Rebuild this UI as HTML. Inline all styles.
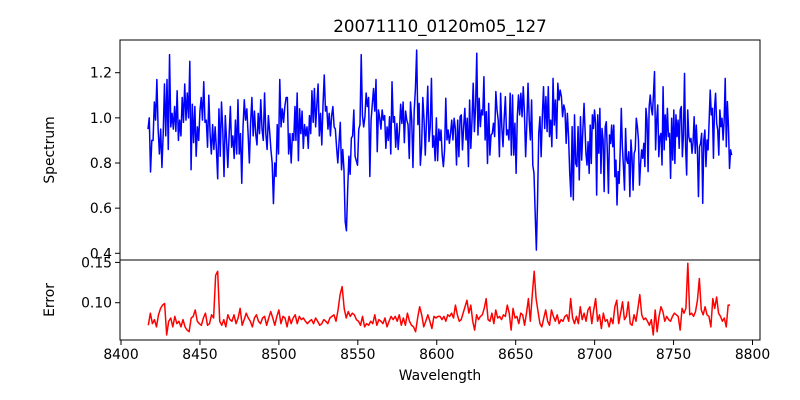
<!DOCTYPE html>
<html><head><meta charset="utf-8"><style>
html,body{margin:0;padding:0;background:#fff;}
svg{display:block;font-family:"DejaVu Sans","Liberation Sans",sans-serif;}
</style></head><body>
<svg id="chart" width="800" height="400" viewBox="0 0 800 400">
<rect x="0" y="0" width="800" height="400" fill="#fff"/>
<text x="440" y="32" font-size="16.7" text-anchor="middle">20071110_0120m05_127</text>
<text transform="translate(54,150) rotate(-90)" font-size="13.9" text-anchor="middle">Spectrum</text>
<text transform="translate(54,300) rotate(-90)" font-size="13.9" text-anchor="middle">Error</text>
<text x="440" y="380" font-size="13.9" text-anchor="middle">Wavelength</text>
<g id="g"></g>
</svg>
<script>
const xTicks=[8400,8450,8500,8550,8600,8650,8700,8750,8800];
const specTicks=[0.4,0.6,0.8,1.0,1.2];
const errTicks=[0.10,0.15];
const specSegLo=[8417.1,8510.8,8602.7,8694.5];
const specSegHi=[8510.2,8602.1,8693.3,8786.8];
const flux1=[0.95,1.0,0.76,0.9,0.9,1.07,0.99,1.17,0.95,0.84,0.95,0.78,0.93,1.15,0.92,1.17,0.86,1.28,0.96,1.02,0.95,1.05,0.94,1.12,0.9,0.99,0.92,1.09,0.98,1.15,0.99,1.11,1.0,1.25,0.77,1.06,0.89,1.05,0.83,0.96,0.9,1.03,1.09,0.99,1.16,0.98,0.99,0.87,1.1,0.93,0.84,0.97,0.86,0.96,0.86,0.73,1.04,0.83,1.07,0.95,0.74,1.01,0.9,0.78,0.92,1.05,0.87,0.92,0.82,0.99,0.84,1.08,0.84,0.93,0.71,0.96,1.08,0.99,1.04,0.93,0.8,0.98,1.09,0.92,1.03,0.93,0.88,1.02,0.93,1.08,0.95,0.9,1.11,0.93,0.86,1.01,0.94,0.86,0.8,0.62,0.8,0.74,0.97,0.84,1.17,0.96,1.04,0.98,1.05,1.09,1.09,0.84,0.93,0.8,0.93,0.9,1.05];
const flux2=[0.9,1.11,0.81,1.04,0.93,1.03,0.865,0.97,0.92,0.96,0.865,1.01,0.93,1.12,0.98,1.13,0.96,1.06,1.15,0.92,1.02,0.88,1.06,1.19,1.03,1.05,0.95,1.02,0.92,1.01,1.05,0.96,0.95,0.87,0.8,0.89,0.98,0.77,0.86,0.77,0.54,0.5,0.68,0.83,0.75,0.91,0.92,1.035,0.83,0.81,0.79,0.95,0.97,1.28,1.01,0.96,1.005,1.11,1.05,1.09,0.74,0.99,1.06,1.13,1.03,1.17,0.85,1.035,1.0,0.95,1.035,0.99,1.01,0.865,0.96,0.9,1.005,0.84,1.16,0.98,1.005,0.87,0.975,0.86,0.94,1.06,0.975,1.07,0.89,1.03,0.99,0.97,0.82,1.07,0.99,0.78,1.03,1.13,1.3,0.97,1.064,0.79,0.87,1.09,0.99,0.835,0.99,1.14,0.895,0.96,1.175,0.87,0.92,0.81,1.0,0.81,0.95,0.9];
const flux3=[0.946,0.835,0.784,0.858,1.087,0.902,0.946,0.887,0.931,0.99,0.902,0.998,0.953,0.791,0.99,0.828,1.005,1.013,0.858,0.961,1.042,0.902,0.998,0.784,1.079,0.865,0.99,1.153,0.939,1.05,1.286,0.924,1.087,0.961,1.035,1.013,1.182,0.902,1.027,0.798,1.064,0.835,0.924,0.931,0.976,0.917,1.116,1.035,0.99,0.828,1.109,0.961,0.872,0.998,1.094,0.924,0.946,0.902,1.109,0.835,1.101,0.835,0.976,0.754,1.005,1.101,1.013,1.109,1.005,1.138,1.02,0.828,0.976,1.153,0.99,0.902,1.079,0.791,0.754,0.577,0.414,0.636,0.931,1.005,0.828,1.005,1.138,0.953,1.094,0.939,1.138,0.917,0.99,0.872,1.175,0.968,1.079,0.909,1.153,1.079,1.123,1.094,1.005,1.057,1.035,0.887,1.02,0.917,0.754,0.651,0.961,0.636,1.013,0.798,0.784,0.961,0.725,1.005,0.813,0.946,1.064];
const flux4=[0.843,0.791,0.894,0.754,0.968,0.798,1.013,0.953,1.035,0.976,0.658,1.013,0.843,1.042,0.754,0.953,0.902,0.673,0.961,0.983,0.843,0.666,0.924,0.887,0.968,0.872,0.968,0.739,0.813,0.614,0.762,0.710,0.858,1.042,0.872,0.784,0.680,0.953,0.813,0.798,0.850,0.651,0.902,0.828,0.680,0.843,0.858,0.998,0.961,0.902,0.702,0.798,0.858,0.821,0.887,0.784,1.042,0.99,0.762,1.05,1.101,1.042,1.013,1.101,1.205,0.858,0.99,1.057,0.828,0.917,0.931,0.791,1.138,0.858,1.013,0.902,1.042,0.917,0.931,0.732,0.998,0.813,1.035,0.798,1.013,0.917,0.99,0.865,1.035,1.05,0.828,0.924,1.197,0.872,0.747,1.035,0.917,0.894,0.909,0.843,0.894,1.005,0.843,0.968,0.865,0.651,0.872,0.887,0.931,0.621,0.902,0.946,0.784,0.902,0.858,0.99,1.123,1.013,1.042,0.821,1.042,1.109,0.976,0.946,0.835,1.035,0.961,0.998,0.902,0.99,1.175,0.872,1.072,0.961,0.776,0.858,0.835];
const errSegLo=[8417.3,8602.1];
const errSegHi=[8602.1,8785.8];
const err1=[0.072,0.087,0.074,0.079,0.070,0.085,0.093,0.097,0.099,0.060,0.077,0.081,0.070,0.083,0.074,0.077,0.070,0.079,0.070,0.066,0.064,0.081,0.083,0.091,0.077,0.074,0.072,0.081,0.087,0.072,0.074,0.085,0.081,0.134,0.139,0.077,0.072,0.079,0.070,0.085,0.079,0.077,0.085,0.074,0.081,0.093,0.072,0.079,0.087,0.081,0.077,0.070,0.081,0.085,0.077,0.074,0.081,0.083,0.072,0.081,0.089,0.081,0.072,0.083,0.091,0.074,0.083,0.081,0.070,0.083,0.074,0.081,0.085,0.074,0.083,0.079,0.081,0.077,0.074,0.077,0.079,0.074,0.081,0.077,0.072,0.074,0.079,0.077,0.074,0.081,0.083,0.085,0.077,0.091,0.110,0.120,0.093,0.081,0.089,0.083,0.087,0.085,0.079,0.077,0.072,0.083,0.070,0.074,0.072,0.077,0.074,0.085,0.072,0.079,0.077,0.074,0.081,0.070,0.077,0.083,0.079,0.083,0.077,0.085,0.072,0.081,0.072,0.087,0.077,0.072,0.070,0.064,0.081,0.095,0.085,0.070,0.077,0.085,0.077,0.068,0.083,0.081,0.083,0.083];
const err2=[0.083,0.079,0.083,0.077,0.085,0.083,0.087,0.081,0.097,0.085,0.077,0.079,0.087,0.095,0.103,0.087,0.097,0.077,0.066,0.085,0.079,0.083,0.085,0.093,0.105,0.079,0.077,0.087,0.074,0.091,0.081,0.083,0.079,0.085,0.083,0.097,0.087,0.066,0.093,0.081,0.083,0.074,0.087,0.085,0.072,0.087,0.105,0.077,0.110,0.139,0.105,0.089,0.074,0.070,0.081,0.091,0.077,0.072,0.091,0.083,0.077,0.085,0.074,0.079,0.077,0.083,0.085,0.077,0.105,0.081,0.074,0.083,0.074,0.095,0.079,0.087,0.077,0.091,0.095,0.074,0.091,0.105,0.077,0.085,0.068,0.087,0.077,0.079,0.070,0.081,0.074,0.095,0.103,0.074,0.087,0.101,0.079,0.083,0.101,0.074,0.072,0.085,0.077,0.093,0.110,0.085,0.079,0.081,0.077,0.072,0.079,0.060,0.091,0.064,0.083,0.095,0.089,0.077,0.083,0.079,0.077,0.083,0.087,0.085,0.083,0.066,0.093,0.087,0.093,0.149,0.085,0.087,0.083,0.089,0.103,0.130,0.091,0.085,0.095,0.085,0.083,0.070,0.105,0.093,0.107,0.087,0.083,0.077,0.081,0.070,0.097,0.097];

const NS='http://www.w3.org/2000/svg';
const g=document.getElementById('g');
const L=120,R=760,T=40,MID=260,B=340;
function xs(v){return 121+(v-8400)*(631.5/400);}
function ys(v){return 72.7+(1.2-v)*(225.75);}
function ye(v){return 302.7+(0.10-v)*806;}
function mk(tag,attrs){const e=document.createElementNS(NS,tag);for(const k in attrs)e.setAttribute(k,attrs[k]);g.appendChild(e);return e;}
function seriesPts(segs,lo,hi,yf){const p=[];segs.forEach((arr,s)=>{const n=arr.length;arr.forEach((v,i)=>{const w=lo[s]+(hi[s]-lo[s])*(n>1?i/(n-1):0);p.push(xs(w).toFixed(2)+','+yf(v).toFixed(2));});});return p.join(' ');}

// clip paths
const defs=document.createElementNS(NS,'defs');g.appendChild(defs);
defs.innerHTML='<clipPath id="c1"><rect x="120" y="40" width="640" height="220"/></clipPath><clipPath id="c2"><rect x="120" y="260" width="640" height="80"/></clipPath>';

const sp=mk('polyline',{points:seriesPts([flux1,flux2,flux3,flux4],specSegLo,specSegHi,ys),fill:'none',stroke:'#0000ff','stroke-width':1.5,'stroke-linejoin':'round','clip-path':'url(#c1)'});


const er=mk('polyline',{points:seriesPts([err1,err2],errSegLo,errSegHi,ye),fill:'none',stroke:'#ff0000','stroke-width':1.5,'stroke-linejoin':'round','clip-path':'url(#c2)'});



const f1=mk('rect',{x:L,y:T,width:R-L,height:MID-T,fill:'none',stroke:'#000','stroke-width':1});


const f2=mk('rect',{x:L,y:MID,width:R-L,height:B-MID,fill:'none',stroke:'#000','stroke-width':1});



xTicks.forEach(t=>{const x=xs(t);
 const l=mk('line',{x1:x,y1:B,x2:x,y2:B+5,stroke:'#000','stroke-width':1});
 
 
 const tx=mk('text',{x:x,y:B+19,'font-size':13.9,'text-anchor':'middle'});tx.textContent=t;
 
 
});
specTicks.forEach(t=>{const y=ys(t);
 const l=mk('line',{x1:L-5,y1:y,x2:L,y2:y,stroke:'#000','stroke-width':1});
 
 
 const tx=mk('text',{x:L-8,y:y+5,'font-size':13.9,'text-anchor':'end'});tx.textContent=t.toFixed(1);
 
 
});
errTicks.forEach(t=>{const y=ye(t);
 const l=mk('line',{x1:L-5,y1:y,x2:L,y2:y,stroke:'#000','stroke-width':1});
 
 
 const tx=mk('text',{x:L-8,y:y+5,'font-size':13.9,'text-anchor':'end'});tx.textContent=t.toFixed(2);
 
 
});
</script>
</body></html>
